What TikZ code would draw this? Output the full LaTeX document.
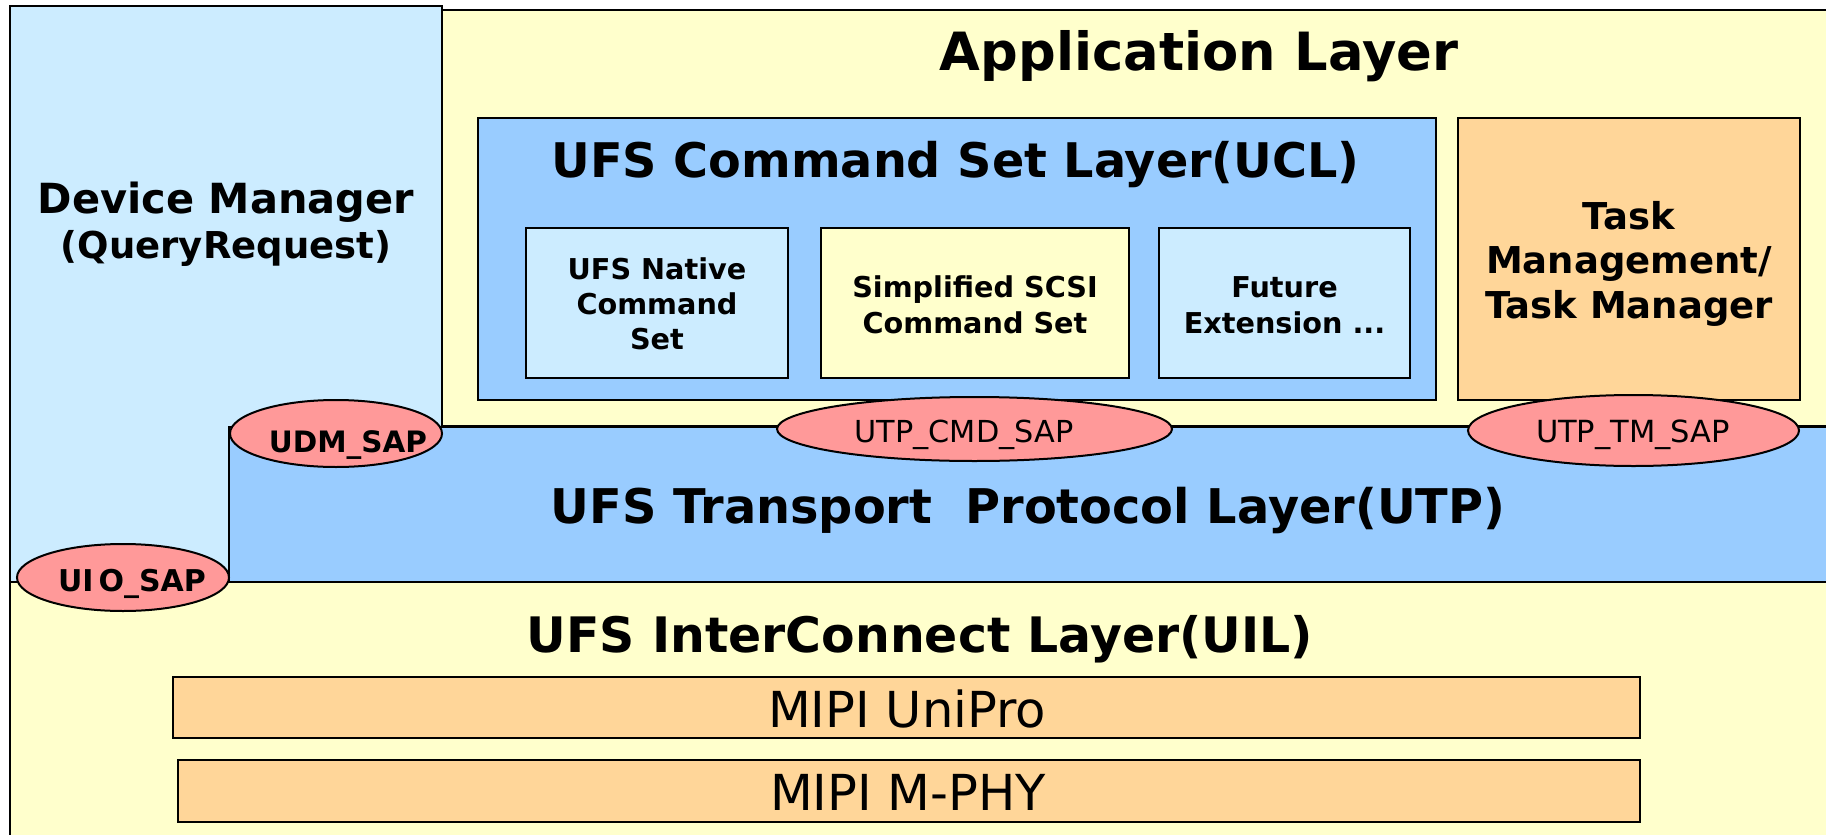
\documentclass[tikz,border=0pt]{standalone}
\usepackage{fontspec}
\setmainfont{DejaVu Sans}
\usetikzlibrary{shapes.geometric}
\definecolor{lblue}{HTML}{CCECFF}
\definecolor{mblue}{HTML}{99CCFF}
\definecolor{lyellow}{HTML}{FFFFCC}
\definecolor{lorange}{HTML}{FFD699}
\definecolor{lpink}{HTML}{FF9999}
\begin{document}
\begin{tikzpicture}[x=1pt,y=-1pt,
  layer/.style={draw=black,line width=2.2pt},
  sap/.style={ellipse,draw=black,line width=2pt,fill=lpink,inner sep=0pt},
  txt/.style={anchor=base,inner sep=0pt,align=center}]
\useasboundingbox (0,0) rectangle (1826,835);
\begin{scope}
\clip (0,0) rectangle (1826,835);
% big layers
\draw[layer,fill=lyellow] (442,10) rectangle (1850,426);
\draw[layer,fill=lyellow] (10,582) rectangle (1850,860);
\draw[layer,fill=lblue] (10,6) rectangle (442,582);
\draw[layer,fill=mblue] (229,427) rectangle (1850,582);
% UCL and its parts
\draw[layer,fill=mblue] (478,118) rectangle (1436,400);
\draw[layer,fill=lblue] (526,228) rectangle (788,378);
\draw[layer,fill=lyellow] (821,228) rectangle (1129,378);
\draw[layer,fill=lblue] (1159,228) rectangle (1410,378);
% task manager
\draw[layer,fill=lorange] (1458,118) rectangle (1800,400);
% MIPI
\draw[layer,fill=lorange] (173,677) rectangle (1640,738);
\draw[layer,fill=lorange] (178,760) rectangle (1640,822);
% SAP ellipses
\node[sap,minimum width=212pt,minimum height=67pt] (udm) at (336,433.5) {};
\node[sap,minimum width=212pt,minimum height=67pt] (uio) at (123,577.5) {};
\node[sap,minimum width=395pt,minimum height=64pt] (ucmd) at (974.5,429) {};
\node[sap,minimum width=331pt,minimum height=71pt] (utm) at (1633.5,430.5) {};
\end{scope}
% texts
\node[txt,font=\bfseries\fontsize{52.7}{55}\selectfont] (applt) at (1199,70) {Application Layer};
\node[txt,font=\bfseries\fontsize{47.7}{55}\selectfont] (uclt) at (955.5,177) {UFS Command Set Layer(UCL)};
\node[txt,font=\bfseries\fontsize{41.5}{45}\selectfont] (dmt) at (226,258) {Device Manager\\\fontsize{37}{45}\selectfont (QueryRequest)};
\node[txt,font=\bfseries\fontsize{28.7}{35}\selectfont] (nativet) at (657,349) {UFS Native\\Command\\Set};
\node[txt,font=\bfseries\fontsize{28.7}{36}\selectfont] (scsit) at (975,333) {Simplified SCSI\\Command Set};
\node[txt,font=\bfseries\fontsize{28.7}{36}\selectfont] (futt) at (1284.5,333) {Future\\Extension ...};
\node[txt,font=\bfseries\fontsize{37}{44.5}\selectfont] (taskt) at (1629,318) {Task\\Management/\\Task Manager};
\node[txt,font=\bfseries\fontsize{47.8}{55}\selectfont] (utpt) at (1028,523) {UFS Transport~~Protocol Layer(UTP)};
\node[txt,font=\bfseries\fontsize{48.9}{55}\selectfont] (uilt) at (920,652) {UFS InterConnect Layer(UIL)};
\node[txt,font=\fontsize{49.6}{55}\selectfont] (uniprot) at (907,727) {MIPI UniPro};
\node[txt,font=\fontsize{49.6}{55}\selectfont] (mphyt) at (908,810) {MIPI M-PHY};
\node[txt,font=\bfseries\fontsize{29.5}{35}\selectfont] (udmt) at (348,452) {UDM\_SAP};
\node[txt,font=\bfseries\fontsize{30}{35}\selectfont] (uiot) at (132,591) {UI\kern5pt O\_SAP};
\node[txt,font=\fontsize{30.3}{35}\selectfont] (ucmdt) at (964,442) {UTP\_CMD\_SAP};
\node[txt,font=\fontsize{30.5}{35}\selectfont] (utmt) at (1633,442) {UTP\_TM\_SAP};
\end{tikzpicture}
\end{document}
